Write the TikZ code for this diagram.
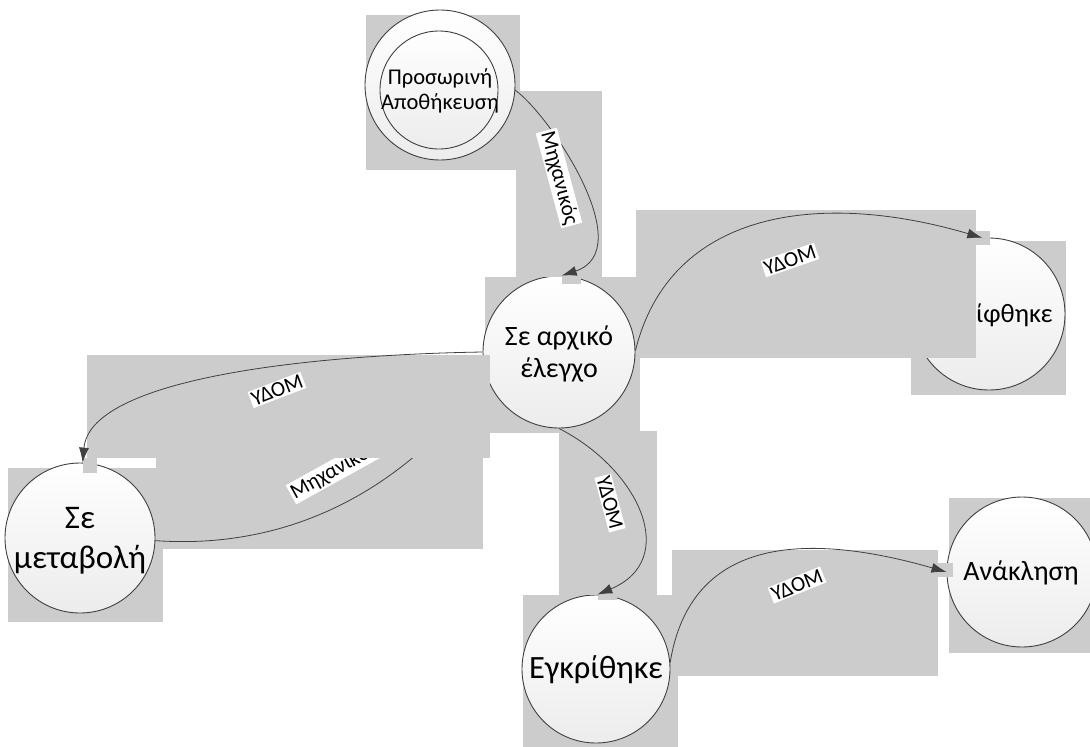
\documentclass[tikz,border=0pt]{standalone}
\usepackage{fontspec}
\setmainfont{Carlito}
\usetikzlibrary{arrows.meta}
\definecolor{boxgray}{RGB}{204,204,204}
\definecolor{linec}{RGB}{64,64,64}
\definecolor{circbot}{RGB}{236,236,236}
\pgfdeclarelayer{lzero}
\pgfdeclarelayer{lone}
\pgfsetlayers{lzero,lone,main}
\begin{document}
\begin{tikzpicture}[x=1pt,y=-1pt,
  st/.style={circle, draw=linec, line width=0.9pt, top color=white, bottom color=circbot, inner sep=0pt, minimum size=#1, align=center, text=black},
  txt/.style={inner sep=0pt, align=center, text=black},
  conn/.style={draw=linec, line width=0.8pt, -{Latex[length=15pt,width=10pt]}},
  lbl/.style={fill=white, inner sep=1.5pt, font=\fontsize{21.5}{24}\selectfont},
  gb/.style={fill=boxgray}]
\useasboundingbox (0,0) rectangle (1090,747);

% Σε αρχικό έλεγχο (lower layer)
\begin{pgfonlayer}{lone}
\fill[gb] (485,277) rectangle (640,433);
\node[st=152pt] (sa) at (559,352) {};
\node[txt, font=\fontsize{28}{32}\selectfont] (sat) at (559,354) {Σε αρχικό\\έλεγχο};
\end{pgfonlayer}

% Σε μεταβολή and connector d (lowest layer)
\begin{pgfonlayer}{lzero}
\fill[gb] (8,468) rectangle (163,622);
\node[st=150pt] (sm) at (80,538) {};
\node[txt, font=\fontsize{33}{40}\selectfont] (smt) at (80,541) {Σε\\μεταβολή};
\fill[gb] (156,380) rectangle (483,549);
\draw[conn] (sm.-2) .. controls (290,550) and (400,490) .. (sa.200);
\node[lbl, rotate=29] (ld) at (334,471) {Μηχανικός};
\end{pgfonlayer}

% connector c
\fill[gb] (87,355) rectangle (490,458);
\fill[gb] (83,458) rectangle (97,473);
\draw[conn] (sa.180) .. controls (300,355) and (90,380) .. (sm.88);
\node[lbl, rotate=21] (lc) at (277,390) {ΥΔΟΜ};

% Προσωρινή Αποθήκευση
\fill[gb] (366,15) rectangle (520,170);
\node[st=150pt] (pa) at (440,85) {};
\node[st=118pt] (pai) at (439,90) {};
\node[txt, font=\fontsize{22.5}{25}\selectfont] (pat) at (440,91) {Προσωρινή\\Αποθήκευση};

% connector a
\fill[gb] (516,91) rectangle (602,277);
\fill[gb] (562,273) rectangle (581,284);
\draw[conn] (pa.-4) .. controls (550,115) and (640,250) .. (sa.88);
\node[lbl, rotate=-75] (la) at (559,178) {Μηχανικός};

% Απορρίφθηκε
\fill[gb] (911,241) rectangle (1066,395);
\node[st=152pt] (ap) at (989,314) {};
\node[txt, font=\fontsize{26.5}{32}\selectfont] (apt) at (979,315) {Απορρίφθηκε};

% connector b
\fill[gb] (636,210) rectangle (976,358);
\fill[gb] (976,231) rectangle (990,245);
\draw[conn] (sa.1) .. controls (670,210) and (820,190) .. (ap.95);
\node[lbl, rotate=19] (lb) at (790,260) {ΥΔΟΜ};

% Εγκρίθηκε
\fill[gb] (523,595) rectangle (678,747);
\node[st=148pt] (eg) at (596,669) {};
\node[txt, font=\fontsize{32.5}{36}\selectfont] (egt) at (596,670) {Εγκρίθηκε};

% connector e
\fill[gb] (559,431) rectangle (657,595);
\fill[gb] (598,589) rectangle (617,600);
\draw[conn] (sa.270) .. controls (640,470) and (680,560) .. (eg.89);
\node[lbl, rotate=-75] (le) at (610,503) {ΥΔΟΜ};

% Ανάκληση
\fill[gb] (949,498) rectangle (1090,653);
\node[st=150pt] (an) at (1022,572) {};
\node[txt, font=\fontsize{28}{32}\selectfont] (ant) at (1021,573) {Ανάκληση};

% connector f
\fill[gb] (672,550) rectangle (938,676);
\fill[gb] (938,563) rectangle (953,577);
\draw[conn] (eg.5) .. controls (690,540) and (800,530) .. (an.180);
\node[lbl, rotate=22] (lf) at (797,585) {ΥΔΟΜ};
\end{tikzpicture}
\end{document}
